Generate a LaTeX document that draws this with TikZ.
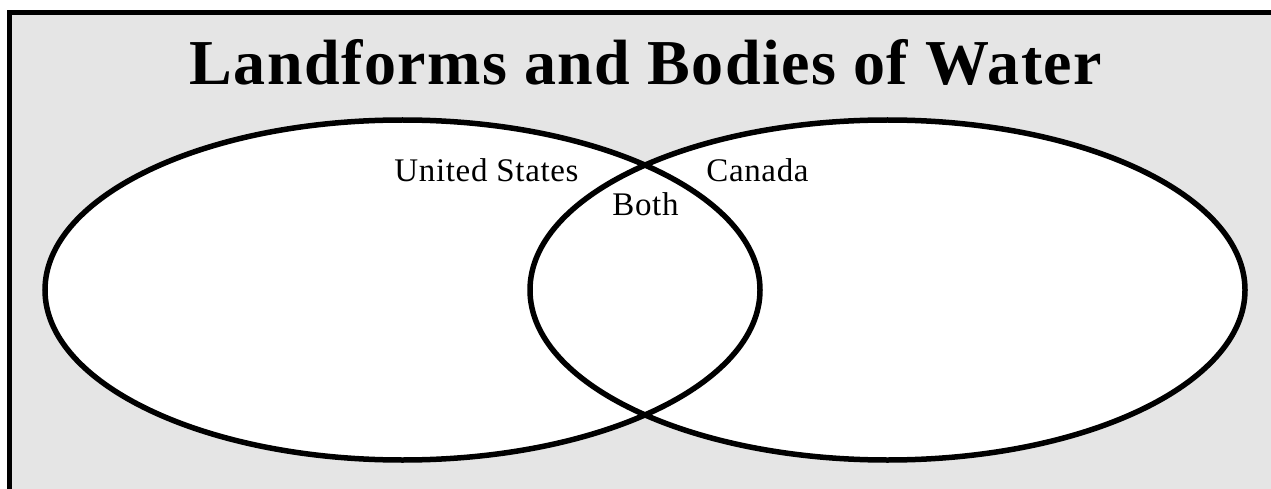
\documentclass[tikz,border=0pt]{standalone}
\usepackage{fontspec}
\setmainfont{Liberation Serif}
\definecolor{bggray}{HTML}{E5E5E5}
\tikzset{
  outline/.style={draw=black, line width=5.5pt},
  label text/.style={font=\fontsize{33}{38}\selectfont\addfontfeatures{LetterSpace=2}, anchor=base, inner sep=0pt},
  title text/.style={font=\fontsize{64}{72}\bfseries\selectfont\addfontfeatures{LetterSpace=2.2}, anchor=base, inner sep=0pt}
}
\begin{document}
\begin{tikzpicture}[x=1pt,y=-1pt]
\useasboundingbox (0,0) rectangle (1271,489);
\fill[bggray] (7,10) rectangle (1271,489);
\draw[outline, line cap=butt] (9.5,489) -- (9.5,12.5) -- (1271,12.5);
\node[title text] (title) at (646,85) {Landforms and Bodies of Water};
\fill[white] (402.5,290) ellipse [x radius=357.5, y radius=170];
\fill[white] (887.5,290) ellipse [x radius=357.5, y radius=170];
\draw[outline] (402.5,290) ellipse [x radius=357.5, y radius=170];
\draw[outline] (887.5,290) ellipse [x radius=357.5, y radius=170];
\node[label text] (us) at (486.5,182) {United States};
\node[label text] (ca) at (757.5,182) {Canada};
\node[label text] (both) at (645.5,215) {Both};
\end{tikzpicture}
\end{document}
